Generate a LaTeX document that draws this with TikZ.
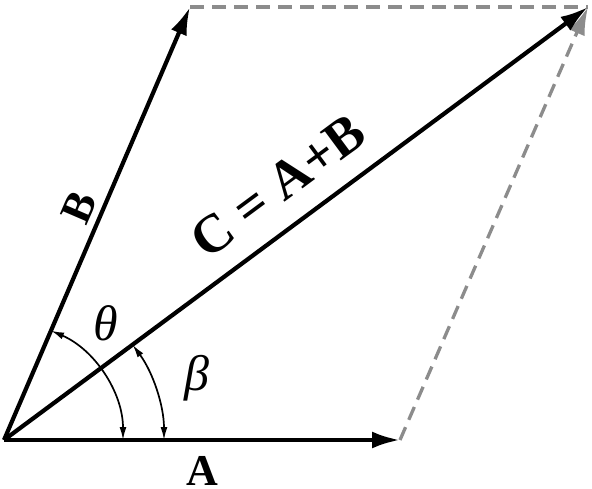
\documentclass[tikz,border=0pt]{standalone}
\usepackage{fontspec}
\setmainfont{Liberation Serif}
\usetikzlibrary{arrows.meta}
\tikzset{
  vec/.style={line width=4.2pt,-{Latex[length=28pt,width=17pt]}},
  helper/.style={line width=3.3pt,gray!90,dash pattern=on 14pt off 8pt},
  anglearc/.style={line width=1.7pt,{Latex[length=13pt,width=7pt]}-{Latex[length=13pt,width=7pt]}},
  lbl/.style={font=\fontsize{44}{50}\selectfont\bfseries},
  ang/.style={font=\fontsize{50}{56}\selectfont\itshape},
}
\begin{document}
\begin{tikzpicture}[x=1pt,y=1pt]
	\useasboundingbox (0,0) rectangle (592,488);
	\coordinate (O) at (4,48);
	\coordinate (A) at (400,48);
	\coordinate (B) at (190,481);
	\coordinate (C) at (588,481);
	% parallelogram sides
	\draw [helper] (B) -- (C);
	\draw [helper,-{Latex[length=28pt,width=17pt]}] (A) -- (C);
	% vectors
	\draw [vec] (O) -- (A);
	\draw [vec] (O) -- (B);
	\draw [vec] (O) -- (C);
	% angles
	\draw [anglearc] ([shift={(66.7:119)}]O) arc[start angle=66.7,end angle=0,radius=119];
	\draw [anglearc] ([shift={(36.5:160)}]O) arc[start angle=36.5,end angle=0,radius=160];
	\node [ang] (theta) at (106,165) {θ};
	\node [ang] (beta) at (197,110) {β};
	% labels
	\node [lbl,anchor=base] (labA) at (202,3) {A};
	\node [lbl,rotate=66.7] (labB) at (79,281) {B};
	\node [lbl,font=\fontsize{54}{60}\selectfont\bfseries,rotate=36.5] (labC) at (278,302) {C = A+B};
\end{tikzpicture}
\end{document}
